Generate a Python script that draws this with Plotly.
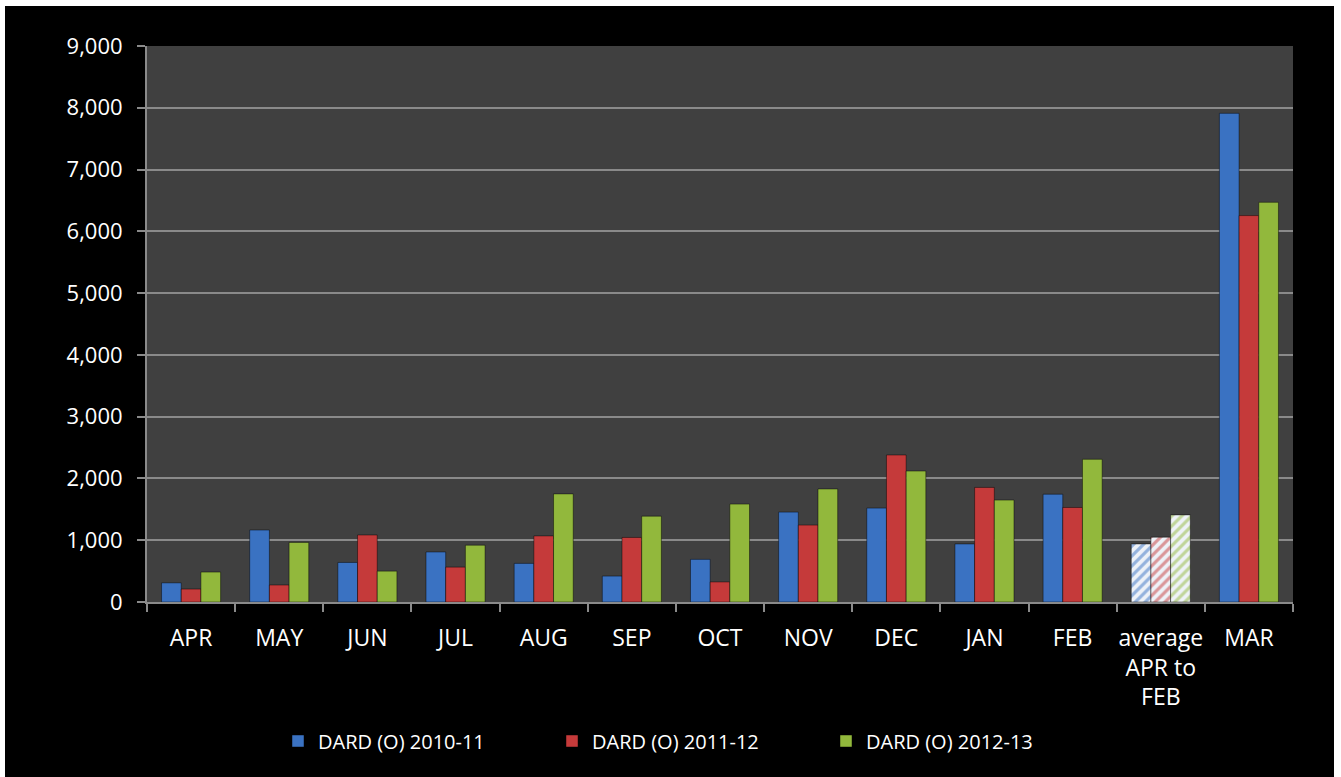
import plotly.graph_objects as go

# categories along the x axis
months = ['APR', 'MAY', 'JUN', 'JUL', 'AUG', 'SEP', 'OCT', 'NOV', 'DEC', 'JAN', 'FEB',
          'average<br>APR to<br>FEB', 'MAR']

# values (the 12th point is the APR-FEB average)
dard_2010_11 = [310, 1165, 640, 810, 625, 420, 690, 1455, 1520, 940, 1745, 940, 7910]
dard_2011_12 = [210, 275, 1085, 565, 1070, 1045, 325, 1245, 2380, 1855, 1530, 1050, 6255]
dard_2012_13 = [485, 965, 500, 920, 1750, 1390, 1585, 1830, 2120, 1650, 2310, 1410, 6470]

series = [
    ('DARD (O) 2010-11', dard_2010_11, '#3a72c2'),
    ('DARD (O) 2011-12', dard_2011_12, '#c53a3a'),
    ('DARD (O) 2012-13', dard_2012_13, '#92b83c'),
]

# the average column is drawn hatched
avg_index = 11
shapes = ['/' if i == avg_index else '' for i in range(len(months))]

FONT = 'Open Sans, Lato, sans-serif'

fig = go.Figure()

for name, values, color in series:
    fig.add_trace(
        go.Bar(
            x=months,
            y=values,
            name=name,
            marker=dict(
                color=color,
                line=dict(color='rgba(0,0,0,0.45)', width=1),
                pattern=dict(shape=shapes, fgcolor=color, bgcolor='#eef2f8',
                             size=7, solidity=0.45),
            ),
        )
    )

# figure sits inside a thin white frame (page margin), plot area fixed in pixels
W, H = 1329, 771
ML, MR, MT, MB = 142, 41, 40, 175
plot_w = W - ML - MR
plot_h = H - MT - MB

fig.update_layout(
    width=W,
    height=H,
    margin=dict(l=ML, r=MR, t=MT, b=MB, pad=0),
    paper_bgcolor='black',
    plot_bgcolor='#404040',
    barmode='group',
    bargap=0.33,
    bargroupgap=0,
    font=dict(family=FONT, color='white', size=22),
    showlegend=True,
    legend=dict(
        orientation='h',
        x=(273 - ML) / plot_w,
        xanchor='left',
        y=-(735 - MT - plot_h) / plot_h,
        yanchor='middle',
        font=dict(family=FONT, color='white', size=20),
        entrywidth=229,
        bgcolor='rgba(0,0,0,0)',
    ),
    xaxis=dict(
        type='category',
        showgrid=False,
        showline=True,
        linecolor='#8a8a8a',
        linewidth=2,
        ticks='outside',
        tickson='boundaries',
        ticklen=8,
        tickwidth=2,
        tickcolor='#8a8a8a',
        tickangle=0,
        tickfont=dict(family=FONT, color='white', size=23),
        ticklabelstandoff=14,
    ),
    yaxis=dict(
        range=[0, 9000],
        dtick=1000,
        tickformat=',d',
        showgrid=True,
        gridcolor='#8a8a8a',
        gridwidth=2,
        zeroline=False,
        showline=True,
        linecolor='#8a8a8a',
        linewidth=2,
        ticks='outside',
        ticklen=8,
        tickwidth=2,
        tickcolor='#8a8a8a',
        tickfont=dict(family=FONT, color='white', size=22),
        ticklabelstandoff=10,
    ),
)

fig.write_html(
    "out.html",
    post_script="document.body.style.margin='6px 7px 0px 5px';"
                "document.body.style.background='white';"
                "document.body.style.overflow='hidden';",
)
